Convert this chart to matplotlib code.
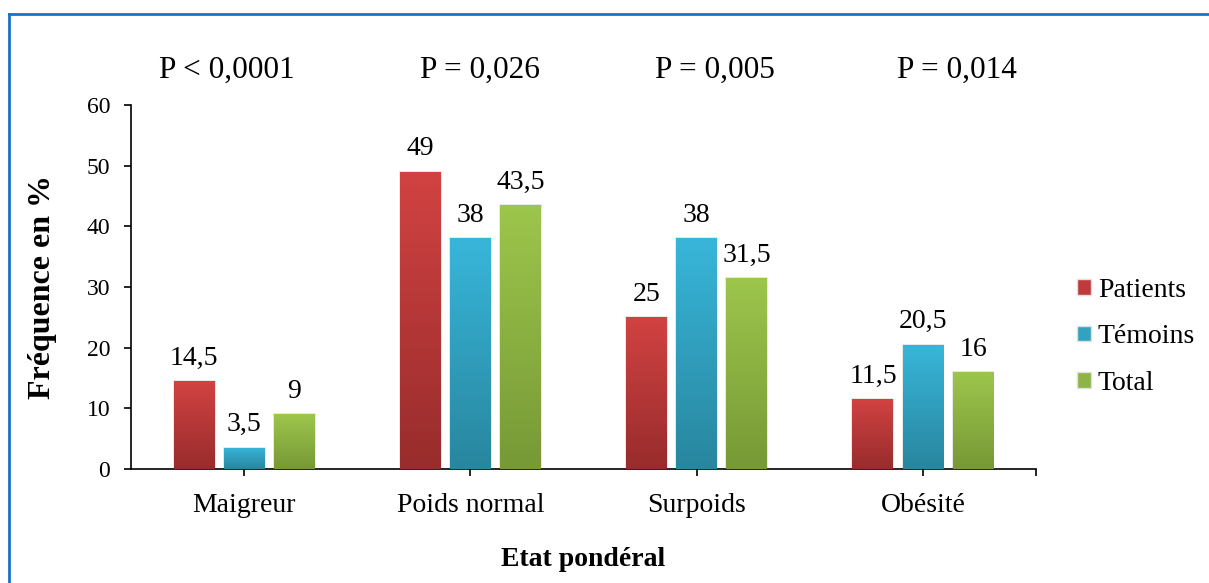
import numpy as np
import matplotlib.pyplot as plt
from matplotlib.lines import Line2D
from matplotlib.patches import Patch
from matplotlib.colors import LinearSegmentedColormap

plt.rcParams['font.family'] = ['Liberation Serif', 'DejaVu Serif']

categories = ['Maigreur', 'Poids normal', 'Surpoids', 'Obésité']
series = ['Patients', 'Témoins', 'Total']
patients = [14.5, 49, 25, 11.5]
temoins = [3.5, 38, 38, 20.5]
total = [9, 43.5, 31.5, 16]
p_values = ['P < 0,0001', 'P = 0,026', 'P = 0,005', 'P = 0,014']
p_pos = [-0.075, 1.04, 2.08, 3.15]

# top / bottom colours for the gradient fill
grad = [('#d24242', '#982c2c'), ('#38b6da', '#28869e'), ('#9dc64c', '#779936')]
mid = ['#bf3a3a', '#32a2c0', '#8db444']


def fmt(v):
    s = ('%g' % v)
    return s.replace('.', ',')


fig = plt.figure(figsize=(12.09, 5.83), dpi=100)
ax = fig.add_axes([0.1084, 0.1955, 0.7486, 0.6244])

x = np.arange(len(categories))
w = 0.181
step = 0.221
for i, (vals, (ctop, cbot)) in enumerate(zip([patients, temoins, total], grad)):
    cmap = LinearSegmentedColormap.from_list('g%d' % i, [cbot, ctop])
    bars = ax.bar(x + (i - 1) * step, vals, width=w, color='none',
                  edgecolor='#e4e4e4', linewidth=1.2, zorder=2)
    for b, v in zip(bars, vals):
        x0 = b.get_x()
        im = ax.imshow(np.linspace(0, 1, 256).reshape(-1, 1), cmap=cmap,
                       origin='lower', aspect='auto',
                       extent=[x0, x0 + w, 0, v], zorder=3)
        im.set_clip_path(b)
        ax.annotate(fmt(v), (x0 + w / 2, v), xytext=(0, 7.5),
                    textcoords='offset points', ha='center', va='bottom',
                    fontsize=20)

ax.set_xlim(-0.5, 3.5)
ax.set_ylim(0, 60)
ax.set_yticks(range(0, 61, 10))
ax.set_xticks(list(x) + [3.5])
ax.set_xticklabels(categories + [''])
ax.tick_params(axis='y', labelsize=17, length=5, width=1.2, direction='out', pad=10)
ax.tick_params(axis='x', labelsize=20, length=5, width=1.2, direction='out', pad=12)
for s in ['top', 'right']:
    ax.spines[s].set_visible(False)
for s in ['left', 'bottom']:
    ax.spines[s].set_linewidth(1.2)

for px, txt in zip(p_pos, p_values):
    ax.text(px, 65.7, txt, ha='center', va='center', fontsize=22.5, clip_on=False)

ax.set_ylabel('Fréquence en %', fontsize=23, fontweight='bold', labelpad=21)
ax.set_xlabel('Etat pondéral', fontsize=20, fontweight='bold', labelpad=21)

handles = [Patch(facecolor=c, edgecolor='#e0e0e0') for c in mid]
ax.legend(handles, series, loc='center left', bbox_to_anchor=(1.033, 0.363),
          frameon=False, fontsize=20, handlelength=0.5, handleheight=0.5,
          handletextpad=0.25, labelspacing=0.78, borderaxespad=0)

# blue frame around the figure
fig.add_artist(Line2D([0.0074, 1.0], [0.976, 0.976], color='#1a72c4', lw=2))
fig.add_artist(Line2D([0.0074, 0.0074], [0.0, 0.976], color='#1a72c4', lw=2))

fig.savefig('out.png', dpi=100)
